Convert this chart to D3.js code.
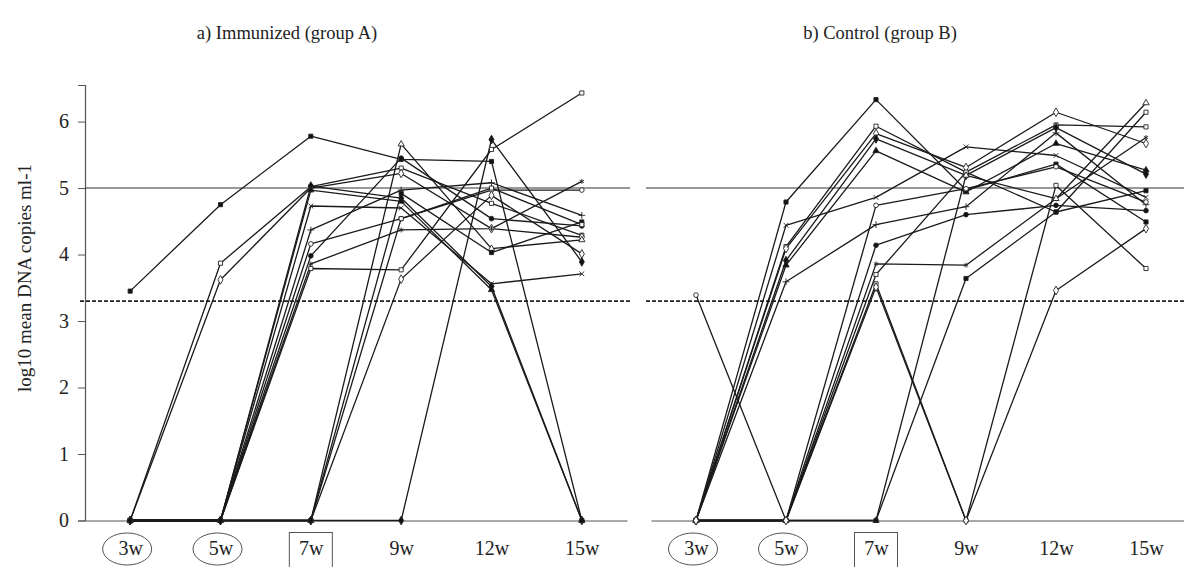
<!DOCTYPE html>
<html><head><meta charset="utf-8">
<script src="https://cdn.jsdelivr.net/npm/d3@7"></script>
<style>
body{margin:0;background:#fff}
svg text{font-family:"Liberation Serif","Times New Roman",serif;fill:#222}
</style>
</head><body>
<svg id="chart" width="1184" height="567"></svg>
<script>
// Sampling weeks and axis ticks
const weeks = ["3w", "5w", "7w", "9w", "12w", "15w"];
const circledWeeks = ["3w", "5w"];
const boxedWeeks = ["7w"];
const yTicks = [0, 1, 2, 3, 4, 5, 6];
const upperLimit = 5;
const detectionLimit = 3.3;

// log10 mean DNA copies per ml, one row per animal (3w .. 15w)
const groupA = [
  [3.45, 4.75, 5.78, 5.43, 5.40, 0],
  [0, 3.87, 5.02, 5.30, 4.77, 4.29],
  [0, 3.62, 5.00, 5.22, 4.39, 4.26],
  [0, 0, 5.03, 4.85, 3.52, 0],
  [0, 0, 4.97, 4.80, 3.47, 0],
  [0, 0, 4.73, 4.70, 3.56, 3.71],
  [0, 0, 4.37, 4.97, 5.08, 4.59],
  [0, 0, 4.16, 4.54, 4.97, 4.97],
  [0, 0, 3.98, 5.45, 4.54, 4.43],
  [0, 0, 3.86, 4.37, 4.39, 5.10],
  [0, 0, 3.79, 3.77, 5.58, 6.43],
  [0, 0, 0, 5.66, 4.09, 4.22],
  [0, 0, 0, 4.92, 4.03, 4.49],
  [0, 0, 0, 4.54, 5.00, 4.45],
  [0, 0, 0, 3.63, 4.89, 4.01],
  [0, 0, 0, 0, 5.73, 3.89]
];
const groupB = [
  [0, 4.79, 6.33, 4.97, 5.36, 4.49],
  [0, 4.12, 5.93, 5.24, 5.95, 5.92],
  [0, 4.09, 5.82, 5.31, 6.14, 5.67],
  [0, 3.91, 5.74, 5.19, 5.91, 5.21],
  [0, 3.84, 5.56, 4.94, 5.67, 5.27],
  [0, 4.44, 4.86, 5.62, 5.49, 4.86],
  [0, 3.59, 4.45, 4.72, 5.83, 4.75],
  [3.39, 0, 4.74, 4.99, 5.32, 4.79],
  [0, 0, 4.14, 4.60, 4.74, 4.66],
  [0, 0, 3.86, 3.84, 4.84, 5.76],
  [0, 0, 3.70, 5.24, 4.64, 6.14],
  [0, 0, 0, 5.19, 4.84, 6.28],
  [0, 0, 0, 3.64, 4.64, 4.96],
  [0, 0, 3.56, 0, 5.04, 3.79],
  [0, 0, 3.51, 0, 3.46, 4.39]
];
// marker per row, cycled
const markerKinds = ["squareFill", "squareOpen", "diamondOpen", "diamondFill", "triangleFill",
  "times", "plus", "circleOpen", "circleFill", "asterisk", "squareOpen", "triangleOpen"];

const serif = "'Liberation Serif','Times New Roman',serif";
const svg = d3.select("#chart");
const y = d3.scaleLinear().domain([0, 6.55]).range([520.5, 85]);

const symbolFor = {
  squareFill: [d3.symbolSquare, true], squareOpen: [d3.symbolSquare, false],
  diamondOpen: [d3.symbolDiamond, false], diamondFill: [d3.symbolDiamond, true],
  triangleFill: [d3.symbolTriangle, true], triangleOpen: [d3.symbolTriangle, false],
  times: [d3.symbolTimes, false], plus: [d3.symbolPlus, false],
  circleOpen: [d3.symbolCircle, false], circleFill: [d3.symbolCircle, true],
  asterisk: [d3.symbolAsterisk, false]
};

const panels = [
  { title: "a) Immunized  (group A)", rows: groupA, range: [85, 627], lineStart: 80, refStart: 85, refEnd: 630, titleX: 287 },
  { title: "b) Control (group B)", rows: groupB, range: [651, 1191], lineStart: 646, refStart: 646, refEnd: 1184, titleX: 880 }
];

// y axis on the left panel
const yAxis = d3.axisLeft(y).tickValues(yTicks).tickSize(7).tickPadding(9).tickFormat(d3.format("d"));
const gy = svg.append("g").attr("transform", "translate(85,0)").call(yAxis)
  .attr("font-family", serif).attr("font-size", 20);
gy.select(".domain").attr("stroke", "#555").attr("stroke-width", 1.2);
gy.selectAll(".tick line").attr("stroke", "#555");
gy.selectAll(".tick text").attr("fill", "#222");

svg.append("text")
  .attr("transform", "translate(31,278) rotate(-90)")
  .attr("text-anchor", "middle").style("font-size", "19px")
  .text("log10 mean DNA copies ml-1");

panels.forEach(p => {
  const x = d3.scalePoint().domain(weeks).range(p.range).padding(0.5);
  const g = svg.append("g");

  g.append("text").attr("x", p.titleX).attr("y", 39).attr("text-anchor", "middle")
    .style("font-size", "18.5px").text(p.title);

  // reference lines: upper level and detection limit
  g.append("line").attr("x1", p.refStart).attr("x2", p.refEnd)
    .attr("y1", y(upperLimit)).attr("y2", y(upperLimit))
    .attr("stroke", "#333").attr("stroke-width", 1.1);
  g.append("line").attr("x1", p.lineStart).attr("x2", p.refEnd)
    .attr("y1", y(detectionLimit)).attr("y2", y(detectionLimit))
    .attr("stroke", "#222").attr("stroke-width", 1.6).attr("stroke-dasharray", "4,2");

  // x axis
  const xAxis = d3.axisBottom(x).tickSize(0).tickPadding(20);
  const gx = g.append("g").attr("transform", `translate(0,${y(0)})`).call(xAxis)
    .attr("font-family", serif).attr("font-size", 20);
  gx.select(".domain").attr("stroke", "#555").attr("stroke-width", 1.2);
  gx.selectAll(".tick text").attr("fill", "#222");

  circledWeeks.forEach(w => {
    g.append("ellipse").attr("cx", x(w) - 3).attr("cy", 549).attr("rx", 24.5).attr("ry", 16)
      .attr("fill", "none").attr("stroke", "#555").attr("stroke-width", 1);
  });
  boxedWeeks.forEach(w => {
    g.append("rect").attr("x", x(w) - 21.5).attr("y", 532.5).attr("width", 43).attr("height", 40)
      .attr("fill", "none").attr("stroke", "#555").attr("stroke-width", 1);
  });

  const line = d3.line().x((d, i) => x(weeks[i])).y(d => y(d));
  p.rows.forEach(row => {
    g.append("path").datum(row).attr("d", line)
      .attr("fill", "none").attr("stroke", "#1a1a1a").attr("stroke-width", 1.3)
      .attr("stroke-linejoin", "round");
  });
  p.rows.forEach((row, r) => {
    const [type, filled] = symbolFor[markerKinds[r % markerKinds.length]];
    const sym = d3.symbol().type(type).size(type === d3.symbolDiamond ? 22 : 17);
    g.selectAll(null).data(row).join("path")
      .attr("transform", (d, i) => `translate(${x(weeks[i])},${y(d)})`)
      .attr("d", sym)
      .attr("fill", filled ? "#111" : "#fff")
      .attr("stroke", "#222").attr("stroke-width", 0.9);
  });
});
</script>
</body></html>
